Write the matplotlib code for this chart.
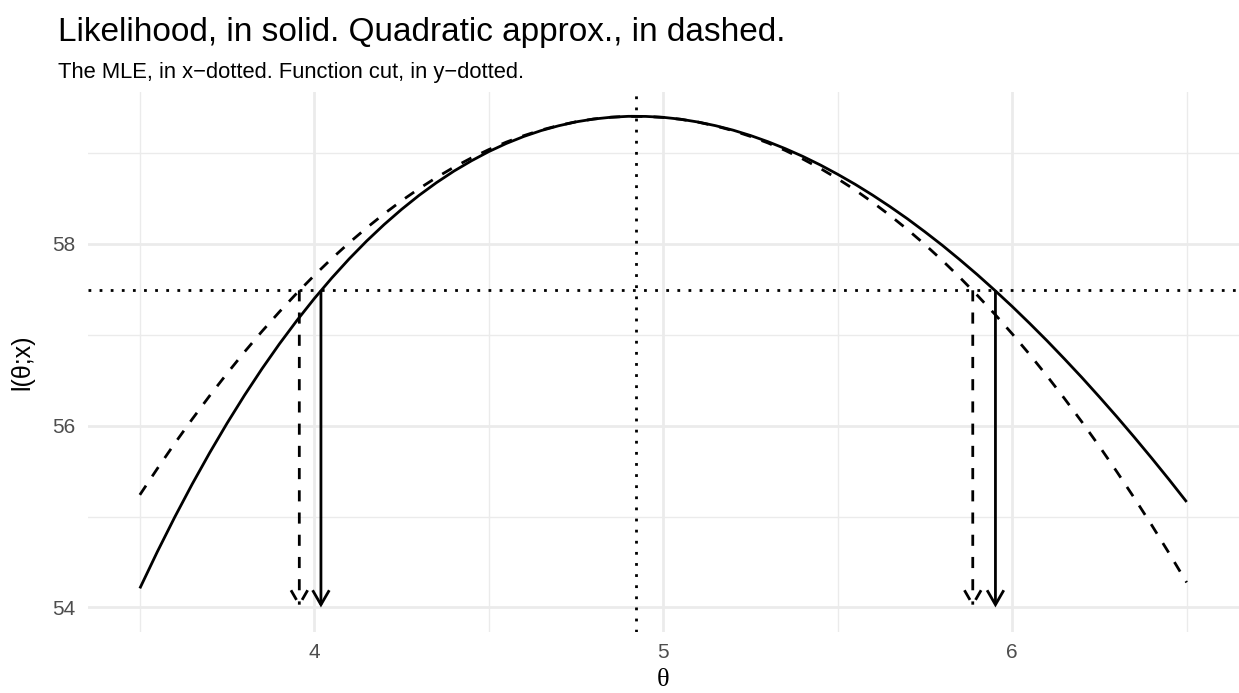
import matplotlib
matplotlib.use('Agg')
import matplotlib.pyplot as plt
from matplotlib.patches import FancyArrowPatch, ArrowStyle

# values
theta = [3.50, 3.55, 3.60, 3.65, 3.70, 3.75, 3.80, 3.85, 3.90, 3.95,
         4.00, 4.05, 4.10, 4.15, 4.20, 4.25, 4.30, 4.35, 4.40, 4.45,
         4.50, 4.55, 4.60, 4.65, 4.70, 4.75, 4.80, 4.85, 4.90, 4.95,
         5.00, 5.05, 5.10, 5.15, 5.20, 5.25, 5.30, 5.35, 5.40, 5.45,
         5.50, 5.55, 5.60, 5.65, 5.70, 5.75, 5.80, 5.85, 5.90, 5.95,
         6.00, 6.05, 6.10, 6.15, 6.20, 6.25, 6.30, 6.35, 6.40, 6.45, 6.50]
loglik = [54.210, 54.612, 54.994, 55.357, 55.701, 56.027, 56.335, 56.626, 56.900, 57.157,
          57.399, 57.625, 57.836, 58.032, 58.213, 58.380, 58.534, 58.674, 58.801, 58.914,
          59.016, 59.105, 59.182, 59.247, 59.300, 59.343, 59.374, 59.394, 59.404, 59.403,
          59.393, 59.372, 59.341, 59.301, 59.252, 59.193, 59.125, 59.048, 58.963, 58.869,
          58.766, 58.656, 58.537, 58.410, 58.276, 58.133, 57.984, 57.826, 57.662, 57.490,
          57.312, 57.126, 56.934, 56.734, 56.529, 56.316, 56.098, 55.873, 55.642, 55.405, 55.161]
quad = [55.239, 55.527, 55.805, 56.072, 56.329, 56.575, 56.812, 57.038, 57.253, 57.459,
        57.654, 57.839, 58.013, 58.177, 58.331, 58.475, 58.608, 58.731, 58.844, 58.946,
        59.038, 59.120, 59.191, 59.253, 59.303, 59.344, 59.374, 59.394, 59.404, 59.403,
        59.392, 59.371, 59.340, 59.298, 59.246, 59.183, 59.111, 59.028, 58.934, 58.831,
        58.717, 58.593, 58.458, 58.313, 58.158, 57.993, 57.817, 57.631, 57.435, 57.228,
        57.011, 56.784, 56.546, 56.298, 56.040, 55.772, 55.493, 55.204, 54.905, 54.595, 54.275]
mle = 4.922
cut = 57.49
cut_lik = [4.019, 5.952]
cut_quad = [3.957, 5.887]
arrow_end = 54

plt.rcParams['font.family'] = ['Liberation Sans', 'DejaVu Sans']
fig = plt.figure(figsize=(12.39, 6.93), dpi=100)
ax = fig.add_axes([87.5 / 1239, 61 / 693, 1151.5 / 1239, 540.3 / 693])

LW = 2.0
ax.plot(theta, loglik, color='black', lw=LW, solid_capstyle='butt', solid_joinstyle='round', zorder=5)
ax.plot(theta, quad, color='black', lw=LW, ls=(0, (4, 4)), dash_capstyle='butt', zorder=5)
ax.axvline(mle, color='black', lw=LW, ls=(0, (1, 3)), dash_capstyle='butt', zorder=4)
ax.axhline(cut, color='black', lw=LW, ls=(0, (1, 3)), dash_capstyle='butt', zorder=4)

head = ArrowStyle('->', head_length=10.4, head_width=6.0)
for xs, ls in [(cut_lik, '-'), (cut_quad, (0, (4, 4)))]:
    for x in xs:
        ax.add_patch(FancyArrowPatch((x, cut), (x, arrow_end), arrowstyle=head, mutation_scale=1,
                                     shrinkA=0, shrinkB=0, lw=LW, ls=ls, color='black',
                                     capstyle='butt', joinstyle='miter', zorder=6))

ax.set_xlim(3.35, 6.65)
ax.set_ylim(53.73, 59.675)
ax.set_xticks([4, 5, 6])
ax.set_xticks([3.5, 4.5, 5.5, 6.5], minor=True)
ax.set_yticks([54, 56, 58])
ax.set_yticks([55, 57, 59], minor=True)
ax.grid(which='major', color='#EBEBEB', lw=2.0)
ax.grid(which='minor', color='#EBEBEB', lw=1.0)
ax.set_axisbelow(True)
for s in ax.spines.values():
    s.set_visible(False)
ax.tick_params(which='both', length=0)
ax.tick_params(axis='x', pad=8, labelsize=15, labelcolor='#4D4D4D')
ax.tick_params(axis='y', pad=9, labelsize=15, labelcolor='#4D4D4D')

fig.text(663 / 1239, 2 / 693, 'θ', family=['Liberation Serif', 'DejaVu Serif'],
         fontsize=19, ha='center', va='bottom')
fig.text(22 / 1239, 1 - 362 / 693, 'l(θ;x)', fontsize=18, rotation=90, ha='center', va='center')

fig.text(58 / 1239, 1 - 41 / 693, 'Likelihood, in solid. Quadratic approx., in dashed.',
         fontsize=24, va='baseline', ha='left')
fig.text(58 / 1239, 1 - 78 / 693, 'The MLE, in x\u2212dotted. Function cut, in y\u2212dotted.',
         fontsize=15.8, va='baseline', ha='left')

fig.savefig('out.png')
